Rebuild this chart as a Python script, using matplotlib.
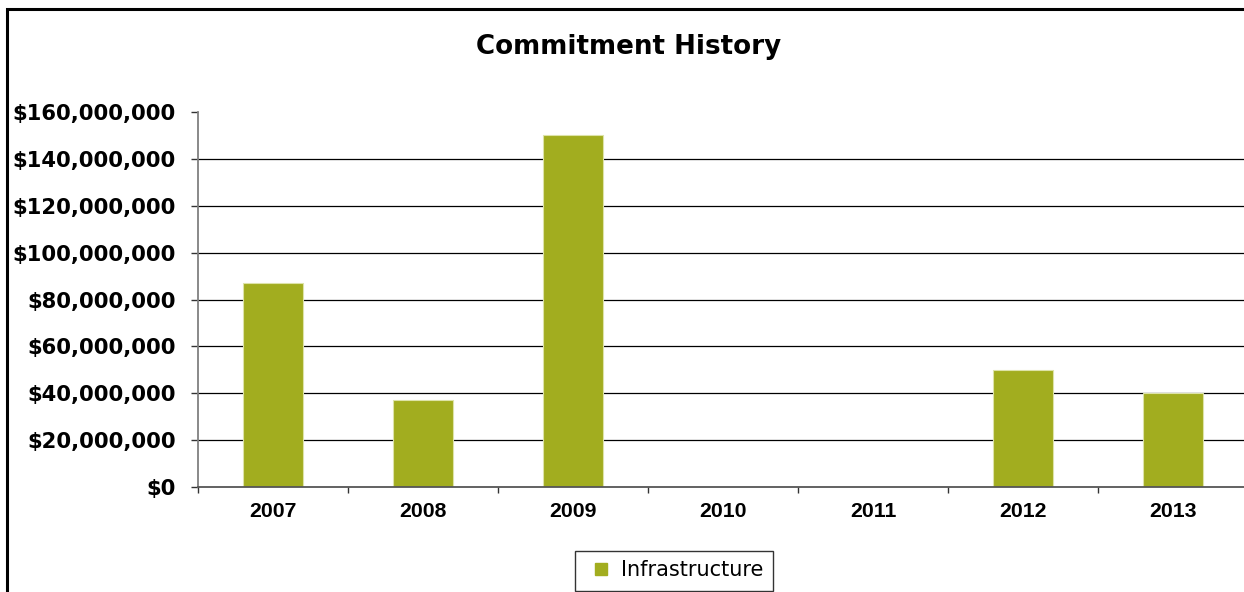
import matplotlib
matplotlib.use("Agg")
import matplotlib.pyplot as plt
from matplotlib.patches import Rectangle
from matplotlib.lines import Line2D
from matplotlib.ticker import FuncFormatter, FixedLocator

years = ["2007", "2008", "2009", "2010", "2011", "2012", "2013"]
infrastructure = [87_000_000, 37_000_000, 150_000_000, 0, 0, 50_000_000, 40_000_000]
y_ticks = [0, 20_000_000, 40_000_000, 60_000_000, 80_000_000,
           100_000_000, 120_000_000, 140_000_000, 160_000_000]
series_name = "Infrastructure"
title = "Commitment History"

W, H = 1244, 592
fig = plt.figure(figsize=(W / 100, H / 100), dpi=100)
fig.patch.set_facecolor("white")

# figure border (left + top visible, cropped on right/bottom)
fig.patches.append(Rectangle((7 / W, -0.1), 1.2, (H - 9) / H + 0.1,
                             transform=fig.transFigure, fill=False,
                             edgecolor="black", linewidth=2.2, zorder=10))

ax = fig.add_axes([198 / W, (H - 487) / H, 1050 / W, (487 - 112) / H])
x = list(range(len(years)))
ax.bar(x, infrastructure, width=0.4, color="#A2AD1F",
       edgecolor="#DDE3A8", linewidth=0.8, zorder=3)

ax.set_xlim(-0.5, len(years) - 0.5)
ax.set_ylim(y_ticks[0], y_ticks[-1])
ax.yaxis.set_major_locator(FixedLocator(y_ticks))
ax.yaxis.set_major_formatter(FuncFormatter(lambda v, p: "${:,.0f}".format(v)))

ax.set_xticks(x)
ax.set_xticklabels(years, fontfamily="Liberation Sans", fontweight="bold", fontsize=15.3)
ax.set_xticks([i - 0.5 for i in range(len(years) + 1)], minor=True)
ax.tick_params(axis="x", which="major", length=0, pad=11)
ax.tick_params(axis="x", which="minor", length=4.5, width=1, color="#333333", direction="out")
ax.tick_params(axis="y", length=5, width=1, color="#333333", direction="out", pad=11)
for lab in ax.get_yticklabels():
    lab.set_fontfamily("DejaVu Sans")
    lab.set_fontweight("bold")
    lab.set_fontsize(15.2)

ax.yaxis.grid(True, color="black", linewidth=0.9, zorder=1)
ax.set_axisbelow(True)
glines = ax.yaxis.get_gridlines()
glines[-1].set_visible(False)
glines[0].set_visible(False)

for s in ["top", "right"]:
    ax.spines[s].set_visible(False)
ax.spines["left"].set_color("#808080")
ax.spines["left"].set_linewidth(1.3)
ax.spines["bottom"].set_color("#555555")
ax.spines["bottom"].set_linewidth(1.3)
ax.spines["bottom"].set_zorder(4)

fig.text(629 / W, (H - 46.5) / H, title, ha="center", va="center",
         fontfamily="DejaVu Sans", fontweight="bold", fontsize=18.8)

handle = Line2D([], [], linestyle="none", marker="s", markersize=8.6,
                markerfacecolor="#A2AD1F", markeredgecolor="#A2AD1F")
leg = fig.legend([handle], [series_name],
                 loc="center", bbox_to_anchor=(674 / W, (H - 570.5) / H),
                 frameon=True, fancybox=False, handlelength=1.5,
                 handletextpad=0.2, borderpad=0.48, borderaxespad=0,
                 prop={"family": "DejaVu Sans", "size": 15})
leg.get_frame().set_edgecolor("black")
leg.get_frame().set_linewidth(1.0)

fig.savefig("out.png", dpi=100, facecolor="white")
